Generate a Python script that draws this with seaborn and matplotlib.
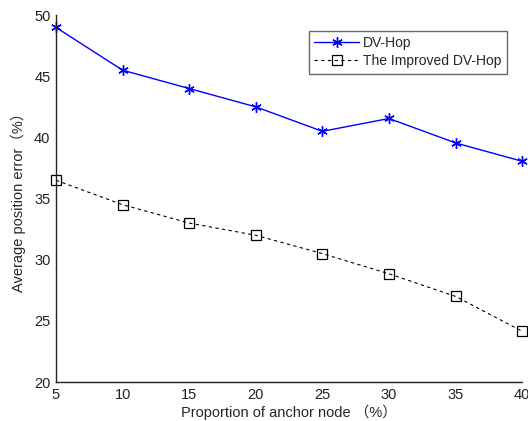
import matplotlib
matplotlib.use("Agg")
import matplotlib.pyplot as plt
import seaborn as sns
import pandas as pd

x_vals = [5, 10, 15, 20, 25, 30, 35, 40]
dvhop = [49.0, 45.5, 44.0, 42.5, 40.5, 41.55, 39.55, 38.05]
improved = [36.5, 34.5, 33.0, 32.0, 30.5, 28.85, 27.0, 24.15]
series_names = ["DV-Hop", "The Improved DV-Hop"]

sns.set_style("white")
plt.rcParams['font.family'] = ['Liberation Sans', 'Noto Sans CJK SC', 'DejaVu Sans']

fig = plt.figure(figsize=(5.28, 4.21), dpi=100)
ax = fig.add_axes([0.106, 0.0926, 0.883, 0.8714])

df = pd.DataFrame({
    "x": x_vals * 2,
    "y": dvhop + improved,
    "series": [series_names[0]] * len(x_vals) + [series_names[1]] * len(x_vals),
})

sns.lineplot(data=df[df.series == series_names[0]], x="x", y="y", ax=ax,
             color="#0000ff", lw=1.0, marker=(6, 2, 0), markersize=7.5,
             markeredgecolor="#0000ff", markeredgewidth=1.0, label=series_names[0],
             clip_on=False)
sns.lineplot(data=df[df.series == series_names[1]], x="x", y="y", ax=ax,
             color="black", lw=0.8, dashes=False, marker="s", markersize=7,
             markerfacecolor="none", markeredgecolor="black", markeredgewidth=0.9,
             label=series_names[1], clip_on=False)
ax.lines[1].set_dashes([3, 3])

ax.set_xlim(5, 40)
ax.set_ylim(20, 50)
ax.set_xticks(x_vals)
ax.set_yticks([20, 25, 30, 35, 40, 45, 50])
ax.tick_params(direction="in", length=4, width=0.8, labelsize=10.5, colors="#222222", pad=4)
for s in ["top", "right"]:
    ax.spines[s].set_visible(False)
for s in ["left", "bottom"]:
    ax.spines[s].set_color("#222222")
    ax.spines[s].set_linewidth(1.0)

ax.set_xlabel("Proportion of anchor node \uff08%\uff09", fontsize=10.5, labelpad=2)
ax.set_ylabel("Average position error\uff08%\uff09", fontsize=10.5, labelpad=6)

leg = ax.legend(loc="upper right", bbox_to_anchor=(0.982, 0.977), fontsize=10,
                frameon=True, fancybox=False, edgecolor="#444444",
                handlelength=3.2, borderpad=0.4, labelspacing=0.3, handletextpad=0.3)
leg.get_frame().set_linewidth(1.0)

fig.savefig("out.png", dpi=100)
